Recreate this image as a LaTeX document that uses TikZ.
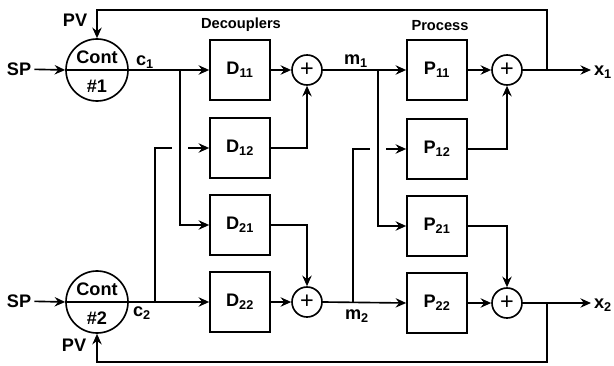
\documentclass[tikz,border=0pt]{standalone}
\usepackage{fontspec}
\setmainfont{Liberation Sans}
\usetikzlibrary{arrows.meta, positioning}
\newcommand{\lblfont}{\fontsize{15.5}{17}\selectfont\bfseries}
\newcommand{\headfont}{\fontsize{12.5}{14}\selectfont\bfseries}

\begin{document}
\begin{tikzpicture}[x=0.03cm, y=-0.03cm, line width=1.4pt,
    blk/.style={draw, minimum width=1.8cm, minimum height=1.8cm, font=\lblfont},
    sumj/.style={draw, circle, minimum size=0.9cm, inner sep=0pt, font=\fontsize{20}{20}\selectfont},
    ctl/.style={draw, circle, minimum size=1.86cm, inner sep=0pt},
    sig/.style={-{Stealth[length=9pt, width=8pt, inset=3pt]}},
    lbl/.style={font=\lblfont, inner sep=2pt}]
    \useasboundingbox (0,0) rectangle (614,366);

    % controllers
    \node[ctl] (ct1) at (97,70) {};
    \node[ctl] (ct2) at (97,302) {};
    \draw (ct1.west) -- (ct1.east);
    \draw (ct2.west) -- (ct2.east);
    \node[lbl] (ct1a) at (97,57) {Cont};
    \node[lbl] (ct1b) at (97,86) {\#1};
    \node[lbl] (ct2a) at (97,289) {Cont};
    \node[lbl] (ct2b) at (97,318) {\#2};

    % setpoints and measured values
    \node[lbl] (sp1) at (19,69) {SP};
    \node[lbl] (sp2) at (19,301) {SP};
    \node[lbl] (pv1) at (75,20) {PV};
    \node[lbl] (pv2) at (74,345) {PV};

    % headings
    \node[font=\headfont] (dhead) at (241,25) {Decouplers};
    \node[font=\headfont] (phead) at (440,26) {Process};

    % decoupler blocks
    \node[blk] (d11) at (240,70) {D\textsubscript{11}};
    \node[blk] (d12) at (240,148) {D\textsubscript{12}};
    \node[blk] (d21) at (240,225) {D\textsubscript{21}};
    \node[blk] (d22) at (240,302) {D\textsubscript{22}};

    % process blocks
    \node[blk] (p11) at (437,70) {P\textsubscript{11}};
    \node[blk] (p12) at (437,149) {P\textsubscript{12}};
    \node[blk] (p21) at (437,226) {P\textsubscript{21}};
    \node[blk] (p22) at (437,303) {P\textsubscript{22}};

    % summing junctions
    \node[sumj] (s1) at (307,70) {+};
    \node[sumj] (s2) at (307,302) {+};
    \node[sumj] (s3) at (507,70) {+};
    \node[sumj] (s4) at (507,303) {+};

    % signal labels
    \node[lbl] (c1) at (145,62) {c\textsubscript{1}};
    \node[lbl] (c2) at (142,313) {c\textsubscript{2}};
    \node[lbl] (m1) at (356,61) {m\textsubscript{1}};
    \node[lbl] (m2) at (357,316) {m\textsubscript{2}};
    \node[lbl] (x1) at (603,72) {x\textsubscript{1}};
    \node[lbl] (x2) at (603,305) {x\textsubscript{2}};

    % branch points, crossing gaps and taps
    \coordinate (br1) at (180,70);
    \coordinate (br2) at (155,302);
    \coordinate (gap1a) at (172,148);
    \coordinate (gap1b) at (188,148);
    \coordinate (br3) at (378,70);
    \coordinate (br4) at (353,302);
    \coordinate (gap2a) at (370,149);
    \coordinate (gap2b) at (386,149);
    \coordinate (tap1) at (547,70);
    \coordinate (tap2) at (547,303);
    \coordinate (fb1) at (547,10);
    \coordinate (fb2) at (547,362);

    % controller inputs
    \draw[sig] (sp1) -- (ct1.west);
    \draw[sig] (sp2) -- (ct2.west);
    \draw[sig] (tap1) -- (fb1) -| (ct1.north);
    \draw[sig] (tap2) -- (fb2) -| (ct2.south);

    % controller outputs to decouplers
    \draw[sig] (ct1.east) -- (d11.west);
    \draw[sig] (ct2.east) -- (d22.west);
    \draw[sig] (br1) |- (d21.west);
    \draw (br2) |- (gap1a);
    \draw[sig] (gap1b) -- (d12.west);

    % decouplers to sums
    \draw[sig] (d11.east) -- (s1.west);
    \draw[sig] (d12.east) -| (s1.south);
    \draw[sig] (d21.east) -| (s2.north);
    \draw[sig] (d22.east) -- (s2.west);

    % manipulated variables to process
    \draw[sig] (s1.east) -- (p11.west);
    \draw[sig] (s2.east) -- (p22.west);
    \draw[sig] (br3) |- (p21.west);
    \draw (br4) |- (gap2a);
    \draw[sig] (gap2b) -- (p12.west);

    % process to outputs
    \draw[sig] (p11.east) -- (s3.west);
    \draw[sig] (p12.east) -| (s3.south);
    \draw[sig] (p21.east) -| (s4.north);
    \draw[sig] (p22.east) -- (s4.west);
    \draw[sig] (s3.east) -- (x1.west |- s3.east);
    \draw[sig] (s4.east) -- (x2.west |- s4.east);
\end{tikzpicture}
\end{document}
